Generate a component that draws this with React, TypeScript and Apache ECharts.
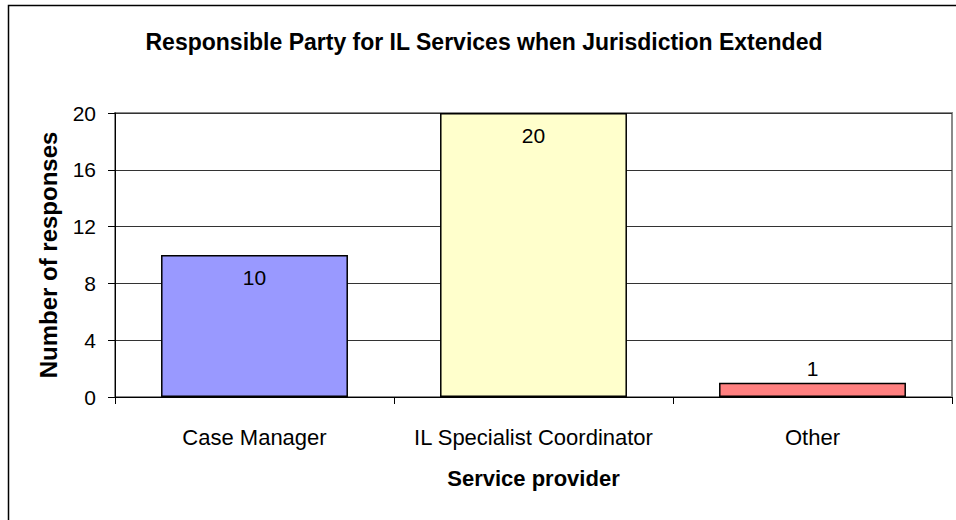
import React, { useEffect, useRef } from "react";
import * as echarts from "echarts";

const categories = ["Case Manager", "IL Specialist Coordinator", "Other"];
const values = [10, 20, 1];
const barColors = ["#9999FF", "#FFFFCC", "#FF8080"];
const titleText = "Responsible Party for IL Services when Jurisdiction Extended";
const yName = "Number of responses";
const xName = "Service provider";

export default function App() {
  const ref = useRef<HTMLDivElement>(null);
  useEffect(() => {
    if (!ref.current) return;
    const chart = echarts.init(ref.current, null, { renderer: "svg" });
    const font = "Liberation Sans, Arial, sans-serif";
    chart.setOption({
      animation: false,
      backgroundColor: "#fff",
      textStyle: { fontFamily: font },
      title: {
        text: titleText,
        left: 479,
        top: 25,
        textAlign: "center",
        textStyle: { fontSize: 23, fontWeight: "bold", color: "#000", fontFamily: font },
      },
      graphic: [
        {
          type: "rect",
          shape: { x: 8.5, y: 5.5, width: 1000, height: 600 },
          style: { fill: "none", stroke: "#000", lineWidth: 1.5 },
          silent: true,
          z: -1,
        },
      ],
      grid: {
        left: 115,
        right: 4,
        top: 113,
        bottom: 123,
        show: true,
        borderColor: "#8a8a8a",
        borderWidth: 2,
        backgroundColor: "transparent",
      },
      xAxis: {
        type: "category",
        data: categories,
        name: xName,
        nameLocation: "middle",
        nameGap: 70,
        nameTextStyle: { fontSize: 22, fontWeight: "bold", color: "#000", fontFamily: font },
        axisLine: { lineStyle: { color: "#000", width: 1 } },
        axisTick: { show: true, length: 7, lineStyle: { color: "#000" } },
        axisLabel: {
          fontSize: 22,
          color: "#000",
          margin: 29,
          fontFamily: font,
          interval: 0,
          hideOverlap: false,
        },
      },
      yAxis: {
        type: "value",
        min: 0,
        max: 20,
        interval: 4,
        name: yName,
        nameLocation: "middle",
        nameGap: 55,
        nameRotate: 90,
        nameTextStyle: { fontSize: 24, fontWeight: "bold", color: "#000", fontFamily: font },
        axisLine: { show: true, lineStyle: { color: "#000", width: 1 } },
        axisTick: { show: true, length: 7, lineStyle: { color: "#000" } },
        axisLabel: { fontSize: 21, color: "#000", margin: 19, fontFamily: font },
        splitLine: { show: true, lineStyle: { color: "#333", width: 1 } },
      },
      series: [
        {
          type: "bar",
          barWidth: "67%",
          data: values.map((v, i) => ({
            value: v,
            itemStyle: { color: barColors[i], borderColor: "#000", borderWidth: 1.5 },
            label: v < 3 ? { position: "top", distance: 4 } : { position: "insideTop", distance: 12 },
          })),
          label: {
            show: true,
            fontSize: 21,
            color: "#000",
            fontFamily: font,
          },
        },
      ],
    });
    return () => chart.dispose();
  }, []);
  return (
    <div
      ref={ref}
      style={{ position: "absolute", left: 0, top: 0, width: 956, height: 520 }}
    />
  );
}
